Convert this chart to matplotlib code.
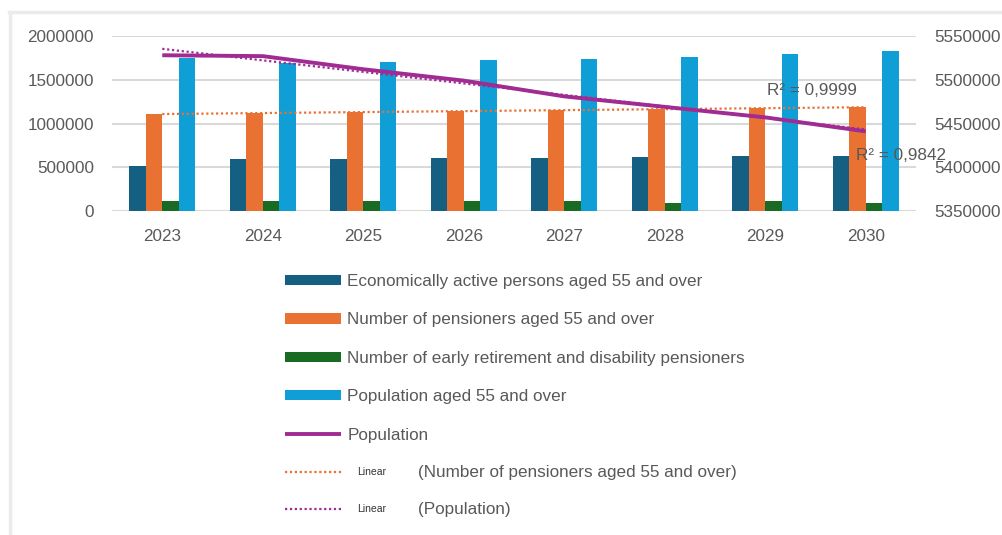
import matplotlib
matplotlib.use("Agg")
import matplotlib.pyplot as plt
import numpy as np

years = ["2023", "2024", "2025", "2026", "2027", "2028", "2029", "2030"]
econ_active = [518000, 591000, 591000, 602000, 602000, 621000, 629000, 629000]
pensioners = [1105000, 1116000, 1135000, 1147000, 1154000, 1162000, 1173000, 1185000]
early_retire = [112000, 113000, 112000, 113000, 113000, 97000, 113000, 97000]
pop55 = [1745000, 1695000, 1707000, 1726000, 1733000, 1764000, 1790000, 1829000]
population = [5528000, 5527000, 5512000, 5499000, 5481000, 5469000, 5457000, 5441000]

left_ticks = [0, 500000, 1000000, 1500000, 2000000]
right_ticks = [5350000, 5400000, 5450000, 5500000, 5550000]
r2_pens = "R² = 0,9999"
r2_pop = "R² = 0,9842"

labels = ["Economically active persons aged 55 and over",
          "Number of pensioners aged 55 and over",
          "Number of early retirement and disability pensioners",
          "Population aged 55 and over",
          "Population"]
trend_word = "Linear"
trend_labels = ["(Number of pensioners aged 55 and over)", "(Population)"]

C_DARK = "#156082"
C_ORANGE = "#E97132"
C_GREEN = "#196B24"
C_LBLUE = "#0F9ED5"
C_PURPLE = "#A02B93"
TXT = "#595959"
GRID = "#d9d9d9"
FS = 12.3

plt.rcParams['font.family'] = ['Liberation Sans', 'DejaVu Sans']

W, H = 1003, 535
fig = plt.figure(figsize=(W / 100, H / 100), dpi=100)
fig.patch.set_facecolor("white")

# light gray outer frame (top and left)
fig.add_artist(plt.Line2D([9 / W, 1], [1 - 12 / H, 1 - 12 / H], color="#ebebeb", lw=2.5))
fig.add_artist(plt.Line2D([10 / W, 10 / W], [0, 1 - 12 / H], color="#ebebeb", lw=2.5))

ax = fig.add_axes([112 / W, 1 - 211 / H, (916 - 112) / W, (211 - 36) / H])
ax2 = ax.twinx()

x = np.arange(len(years))
bw = 0.165
series = [econ_active, pensioners, early_retire, pop55]
colors = [C_DARK, C_ORANGE, C_GREEN, C_LBLUE]
handles = []
for i, (vals, col) in enumerate(zip(series, colors)):
    b = ax.bar(x + (i - 1.5) * bw, vals, width=bw, color=col, zorder=3, label=labels[i])
    handles.append(b)

# linear trendline for pensioners
cp = np.polyfit(x, pensioners, 1)
tp, = ax.plot(x, np.polyval(cp, x), color=C_ORANGE, lw=1.6, ls=(0, (1, 1.2)), zorder=4)

ax.set_xlim(-0.5, len(years) - 0.5)
ax.set_ylim(left_ticks[0], left_ticks[-1])
ax.set_yticks(left_ticks)
ax.set_yticklabels([str(v) for v in left_ticks])
ax.set_xticks(x)
ax.set_xticklabels(years)
ax.yaxis.grid(True, color=GRID, lw=1.5, zorder=0)
ax.set_axisbelow(True)
for s in ax.spines.values():
    s.set_visible(False)
for s in ax2.spines.values():
    s.set_visible(False)
ax.tick_params(axis="both", length=0, colors=TXT, labelsize=FS)
ax.tick_params(axis="y", pad=13)
ax.tick_params(axis="x", pad=13)

ln, = ax2.plot(x, population, color=C_PURPLE, lw=2.8, zorder=5, solid_capstyle="butt")
cpop = np.polyfit(x, population, 1)
tpop, = ax2.plot(x, np.polyval(cpop, x), color=C_PURPLE, lw=1.6, ls=(0, (1, 1.2)), zorder=4)
ax2.set_ylim(right_ticks[0], right_ticks[-1])
ax2.set_yticks(right_ticks)
ax2.set_yticklabels([str(v) for v in right_ticks])
ax2.tick_params(axis="y", length=0, colors=TXT, labelsize=FS, pad=13)

ax.text(0.815, 0.686, r2_pens, transform=ax.transAxes, color=TXT, fontsize=FS,
        va="center", ha="left", zorder=6)
ax2.text(0.925, 0.32, r2_pop, transform=ax.transAxes, color=TXT, fontsize=FS,
         va="center", ha="left", zorder=6)

# main legend (5 rows)
leg1 = fig.legend(handles + [ln], labels,
                  loc="upper left", bbox_to_anchor=(285 / W, 1 - 274 / H),
                  frameon=False, fontsize=FS, labelcolor=TXT,
                  handlelength=3.3, handleheight=0.55, handletextpad=0.35,
                  labelspacing=1.37, borderpad=0, borderaxespad=0)
# trendline legend (2 rows, small "Linear" word)
SFS = 7.5
leg2 = fig.legend([tp, tpop], [trend_word, trend_word],
                  loc="upper left", bbox_to_anchor=(285 / W, 1 - 467 / H),
                  frameon=False, fontsize=SFS, labelcolor="#333333",
                  handlelength=5.4, handleheight=0.55, handletextpad=1.5,
                  labelspacing=2.6, borderpad=0, borderaxespad=0)

fig.canvas.draw()
r = fig.canvas.get_renderer()
for t, lab in zip(leg2.get_texts(), trend_labels):
    bb = t.get_window_extent(r)
    fig.text(418 / W, (bb.y0 + bb.y1) / 2 / H, lab, fontsize=FS, color=TXT,
             va="center", ha="left")

fig.savefig("out.png", dpi=100, facecolor="white")
